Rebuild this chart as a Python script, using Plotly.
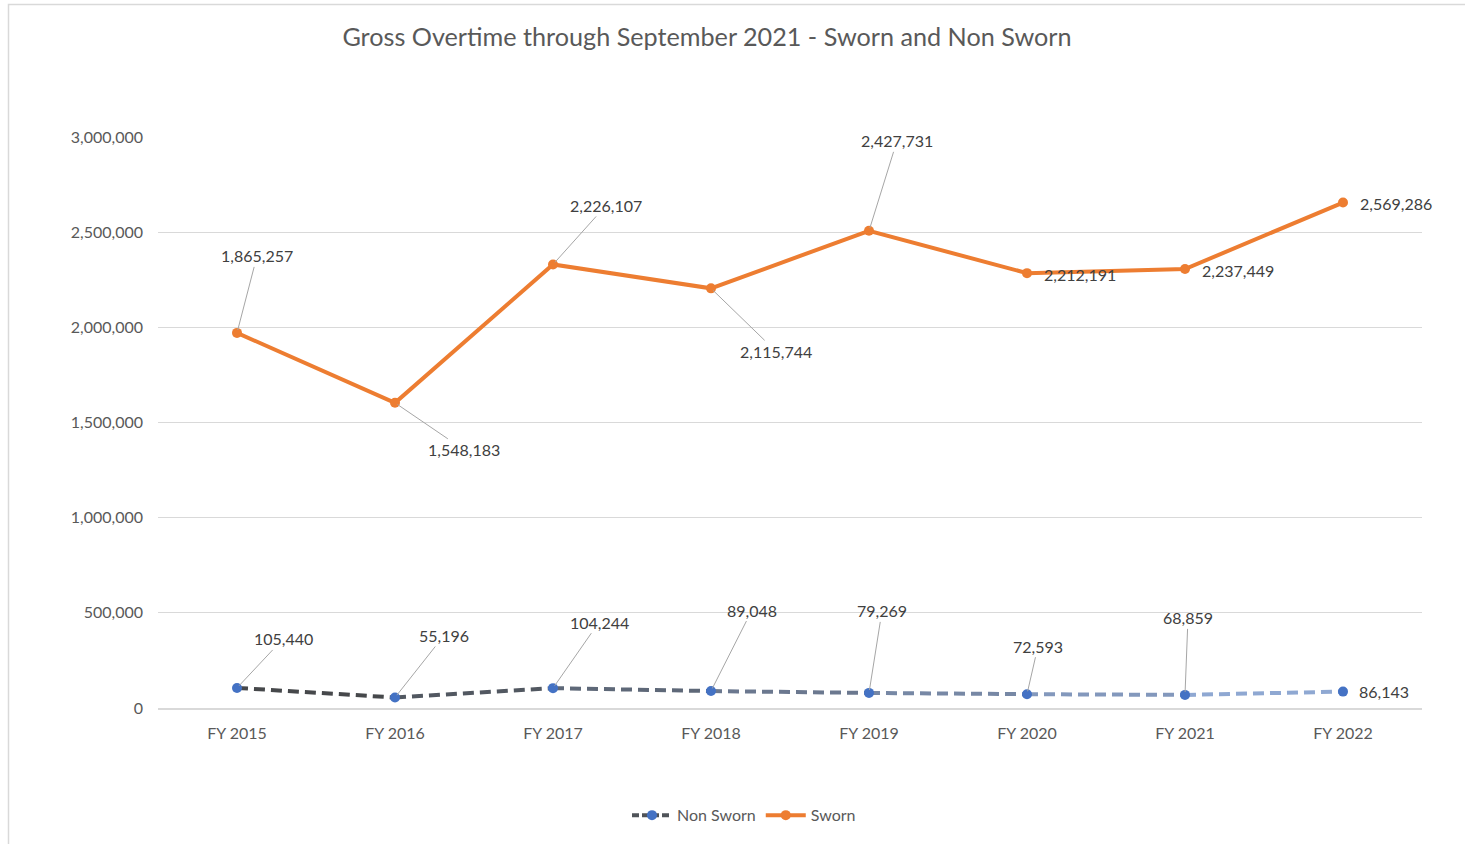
import plotly.graph_objects as go
import numpy as np

categories = ["FY 2015", "FY 2016", "FY 2017", "FY 2018", "FY 2019", "FY 2020", "FY 2021", "FY 2022"]
non_sworn = [105440, 55196, 104244, 89048, 79269, 72593, 68859, 86143]
sworn = [1865257, 1548183, 2226107, 2115744, 2427731, 2212191, 2237449, 2569286]
y_ticks = [0, 500000, 1000000, 1500000, 2000000, 2500000, 3000000]

# Sworn plotted stacked on top of Non Sworn (stacked line chart)
sworn_stacked = list(np.array(sworn) + np.array(non_sworn))

FONT = "Lato"
ORANGE = "#ED7D31"
BLUE = "#4472C4"

W, H = 1465, 844
PL, PR, PT, PB = 158, 1422, 137, 712
PW, PH = PR - PL, PB - PT

fig = go.Figure()

# Non Sworn gradient dashed line, drawn as segments
c0 = np.array([64, 64, 64])
c1 = np.array([150, 176, 222])
n = len(categories)
for i in range(n - 1):
    t = (i + 0.5) / (n - 1)
    c = (c0 + (c1 - c0) * t).astype(int)
    fig.add_trace(go.Scatter(
        x=categories[i:i + 2], y=non_sworn[i:i + 2], mode="lines",
        line=dict(color=f"rgb({c[0]},{c[1]},{c[2]})", width=4, dash="11px,6px"),
        showlegend=False, hoverinfo="skip"))

fig.add_trace(go.Scatter(
    x=categories, y=non_sworn, mode="markers", name="Non Sworn",
    marker=dict(color=BLUE, size=10), showlegend=False))
# legend entry for Non Sworn
fig.add_trace(go.Scatter(
    x=[None], y=[None], mode="lines+markers", name="Non Sworn",
    line=dict(color="#505459", width=4, dash="7px,3px"),
    marker=dict(color=BLUE, size=10)))

fig.add_trace(go.Scatter(
    x=categories, y=sworn_stacked, mode="lines+markers", name="Sworn",
    line=dict(color=ORANGE, width=4),
    marker=dict(color=ORANGE, size=10)))

# Data labels
sworn_off = [(20, -77, True), (69, 47, True), (53, -59, True), (65, 63, True),
             (28, -90, True), (53, 1, False), (53, 1, False), (53, 1, False)]
non_off = [(46, -49, True), (49, -62, True), (46, -66, True), (41, -81, True),
           (13, -82, True), (11, -48, True), (3, -77, True), (41, 0, False)]

def add_labels(values, plot_vals, offs):
    for cat, v, pv, (ax, ay, arrow) in zip(categories, values, plot_vals, offs):
        if arrow:
            fig.add_annotation(x=cat, y=pv, text=f"{v:,}", showarrow=True,
                               ax=ax, ay=ay, arrowhead=0, arrowwidth=1,
                               arrowcolor="#A6A6A6", standoff=3,
                               font=dict(family=FONT, size=16, color="#404040"))
        else:
            fig.add_annotation(x=cat, y=pv, text=f"{v:,}", showarrow=False,
                               xshift=ax, yshift=-ay,
                               font=dict(family=FONT, size=16, color="#404040"))

add_labels(sworn, sworn_stacked, sworn_off)
add_labels(non_sworn, non_sworn, non_off)

# chart frame
fig.add_shape(type="rect", xref="paper", yref="paper",
              x0=(8.5 - PL) / PW, x1=(W + 20 - PL) / PW,
              y0=(PB - (H + 20)) / PH, y1=(PB - 3.5) / PH,
              line=dict(color="#D9D9D9", width=1.5), layer="below")

fig.update_layout(
    width=W, height=H,
    margin=dict(l=PL, r=W - PR, t=PT, b=H - PB),
    paper_bgcolor="white", plot_bgcolor="white",
    title=dict(text="Gross Overtime through September 2021 - Sworn and Non Sworn",
               x=707 / W, xanchor="center", y=1 - 37 / H, yanchor="middle",
               font=dict(family=FONT, size=25.2, color="#595959")),
    font=dict(family=FONT, color="#595959"),
    xaxis=dict(type="category", range=[-0.5, 7.5], showgrid=False,
               showline=True, linecolor="#D9D9D9", linewidth=1.5,
               ticks="", ticklabelstandoff=10,
               tickfont=dict(size=16, color="#595959"), zeroline=False),
    yaxis=dict(range=[0, 3000000], tickvals=y_ticks, tickformat=",",
               showgrid=True, gridcolor="#D9D9D9", gridwidth=1,
               zeroline=False, showline=False, ticks="", ticklabelstandoff=14,
               tickfont=dict(size=16, color="#595959")),
    legend=dict(orientation="h", x=(744 - PL) / PW, xanchor="center",
                y=(PB - 820) / PH, yanchor="middle",
                font=dict(family=FONT, size=16, color="#595959"),
                itemwidth=40),
    showlegend=True,
)

fig.write_html("out.html", config={"displayModeBar": False},
               post_script="document.body.style.margin='0';document.body.style.overflow='hidden';")
